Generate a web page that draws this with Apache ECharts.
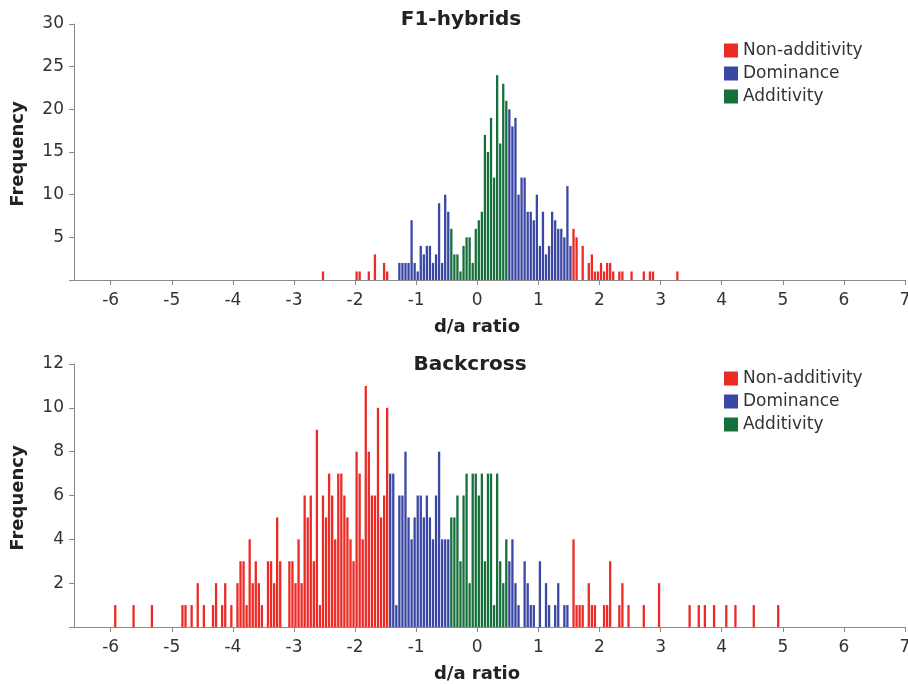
<!DOCTYPE html>
<html><head><meta charset="utf-8">
<script src="https://cdn.jsdelivr.net/npm/echarts@6/dist/echarts.min.js"></script>
<style>html,body{margin:0;padding:0;background:#fff}#c{width:908px;height:684px}</style>
</head><body><div id="c"></div>
<script>
// ---------- data ----------
const xTicks = [-6,-5,-4,-3,-2,-1,0,1,2,3,4,5,6,7];
const seriesNames = ['Non-additivity','Dominance','Additivity'];

// F1-hybrids (bin centres, frequencies)
const f1NonAddX = [-2.525,-1.975,-1.925,-1.775,-1.675,-1.525,-1.475,1.575,1.625,1.725,1.825,1.875,1.925,1.975,2.025,2.075,2.125,2.175,2.225,2.325,2.375,2.525,2.725,2.825,2.875,3.275];
const f1NonAddY = [1,1,1,1,3,2,1,6,5,4,2,3,1,1,2,1,2,2,1,1,1,1,1,1,1,1];
const f1DomX = [-1.275,-1.225,-1.175,-1.125,-1.075,-1.025,-0.975,-0.925,-0.875,-0.825,-0.775,-0.725,-0.675,-0.625,-0.575,-0.525,-0.475,
  0.525,0.575,0.625,0.675,0.725,0.775,0.825,0.875,0.925,0.975,1.025,1.075,1.125,1.175,1.225,1.275,1.325,1.375,1.425,1.475,1.525];
const f1DomY = [2,2,2,2,7,2,1,4,3,4,4,2,3,9,2,10,8,
  20,18,19,10,12,12,8,8,7,10,4,8,3,4,8,7,6,6,5,11,4];
const f1AddX = [-0.425,-0.375,-0.325,-0.275,-0.225,-0.175,-0.125,-0.075,-0.025,0.025,0.075,0.125,0.175,0.225,0.275,0.325,0.375,0.425,0.475];
const f1AddY = [6,3,3,1,4,5,5,2,6,7,8,17,15,19,12,24,16,23,21];

// Backcross
const bcNonAddX = [-5.925,-5.625,-5.325,-4.825,-4.775,-4.675,-4.575,-4.475,-4.325,-4.275,-4.175,-4.125,-4.025,-3.925,-3.875,-3.825,-3.775,-3.725,-3.675,-3.625,-3.575,-3.525,-3.425,-3.375,-3.325,-3.275,-3.225,
  -3.075,-3.025,-2.975,-2.925,-2.875,-2.825,-2.775,-2.725,-2.675,-2.625,-2.575,-2.525,-2.475,-2.425,-2.375,-2.325,-2.275,-2.225,-2.175,-2.125,-2.075,-2.025,-1.975,-1.925,-1.875,-1.825,-1.775,-1.725,-1.675,-1.625,-1.575,-1.525,-1.475,
  1.575,1.625,1.675,1.725,1.825,1.875,1.925,2.075,2.125,2.175,2.325,2.375,2.475,2.725,2.975,3.475,3.625,3.725,3.875,4.075,4.225,4.525,4.925];
const bcNonAddY = [1,1,1,1,1,1,2,1,1,2,1,2,1,2,3,3,1,4,2,3,2,1,3,3,2,5,3,
  3,3,2,4,2,6,5,6,3,9,1,6,5,7,6,4,7,7,6,5,4,3,8,7,4,11,8,6,6,10,5,6,10,
  4,1,1,1,2,1,1,1,1,3,1,2,1,1,2,1,1,1,1,1,1,1,1];
const bcDomX = [-1.425,-1.375,-1.325,-1.275,-1.225,-1.175,-1.125,-1.075,-1.025,-0.975,-0.925,-0.875,-0.825,-0.775,-0.725,-0.675,-0.625,-0.575,-0.525,-0.475,
  0.525,0.575,0.625,0.675,0.775,0.825,0.875,0.925,1.025,1.125,1.175,1.275,1.325,1.425,1.475];
const bcDomY = [7,7,1,6,6,8,5,4,5,6,6,5,6,5,4,6,8,4,4,4,
  3,4,2,1,3,2,1,1,3,2,1,1,2,1,1];
const bcAddX = [-0.425,-0.375,-0.325,-0.275,-0.225,-0.175,-0.125,-0.075,-0.025,0.025,0.075,0.125,0.175,0.225,0.275,0.325,0.375,0.425,0.475];
const bcAddY = [5,5,6,3,6,7,2,7,7,6,7,3,7,7,1,7,3,2,4];

// ---------- style ----------
const FONT = 'DejaVu Sans';
const COLORS = ['#ec2a26','#3a47a3','#17703c'];
const AXIS_COL = '#8a8a8a';
const TXT = '#333';

function pairs(xs, ys){ return xs.map((x,i)=>[x, ys[i]]); }

function xAxisDef(gi){
  return {
    gridIndex: gi, type:'value', min:-6.6, max:7,
    axisLine:{onZero:false, lineStyle:{color:AXIS_COL, width:1}},
    axisTick:{customValues:xTicks, length:5, lineStyle:{color:AXIS_COL}},
    axisLabel:{customValues:xTicks, fontSize:17, color:TXT, fontFamily:FONT, margin:12},
    splitLine:{show:false}
  };
}
function yAxisDef(gi, max, interval){
  return {
    gridIndex: gi, type:'value', min:0, max:max, interval:interval,
    axisLine:{show:true, onZero:false, lineStyle:{color:AXIS_COL, width:1}},
    axisTick:{show:true, length:5, lineStyle:{color:AXIS_COL}},
    axisLabel:{fontSize:17, color:TXT, fontFamily:FONT, margin:10,
      formatter: v => v === 0 ? '' : String(v)},
    splitLine:{show:false}
  };
}
function barSeries(name, gi, xs, ys, color){
  return {
    type:'bar', name:name, xAxisIndex:gi, yAxisIndex:gi,
    data:pairs(xs, ys), barWidth:2.3, barGap:'-100%',
    itemStyle:{color:color}, animation:false
  };
}
function legendDef(top){
  return {
    orient:'vertical', left:719, top:top, icon:'rect',
    itemWidth:14, itemHeight:14, itemGap:6,
    data:seriesNames,
    textStyle:{fontSize:17, color:TXT, fontFamily:FONT}
  };
}
function txt(text, x, y, size, rot){
  return {type:'text', x:x, y:y, rotation:rot||0,
    style:{text:text, font:'bold '+size+'px "DejaVu Sans"', fill:'#222',
      align:'center', verticalAlign:'middle', textAlign:'center', textVerticalAlign:'middle'}};
}

const chart = echarts.init(document.getElementById('c'), null, {renderer:'canvas'});
chart.setOption({
  animation:false,
  color:COLORS,
  graphic:[
    txt('F1-hybrids', 461, 20, 20),
    txt('Backcross', 470, 365, 20),
    txt('d/a ratio', 477, 327, 18),
    txt('d/a ratio', 477, 674, 18),
    txt('Frequency', 18, 154, 18, Math.PI/2),
    txt('Frequency', 18, 498, 18, Math.PI/2)
  ],
  legend:[legendDef(37), legendDef(365)],
  grid:[
    {left:74, top:24, width:831, height:256, containLabel:false, outerBoundsMode:'none'},
    {left:74, top:364, width:831, height:263, containLabel:false, outerBoundsMode:'none'}
  ],
  xAxis:[xAxisDef(0), xAxisDef(1)],
  yAxis:[yAxisDef(0, 30, 5), yAxisDef(1, 12, 2)],
  series:[
    barSeries(seriesNames[0], 0, f1NonAddX, f1NonAddY, COLORS[0]),
    barSeries(seriesNames[1], 0, f1DomX, f1DomY, COLORS[1]),
    barSeries(seriesNames[2], 0, f1AddX, f1AddY, COLORS[2]),
    barSeries(seriesNames[0], 1, bcNonAddX, bcNonAddY, COLORS[0]),
    barSeries(seriesNames[1], 1, bcDomX, bcDomY, COLORS[1]),
    barSeries(seriesNames[2], 1, bcAddX, bcAddY, COLORS[2])
  ]
});
</script></body></html>
